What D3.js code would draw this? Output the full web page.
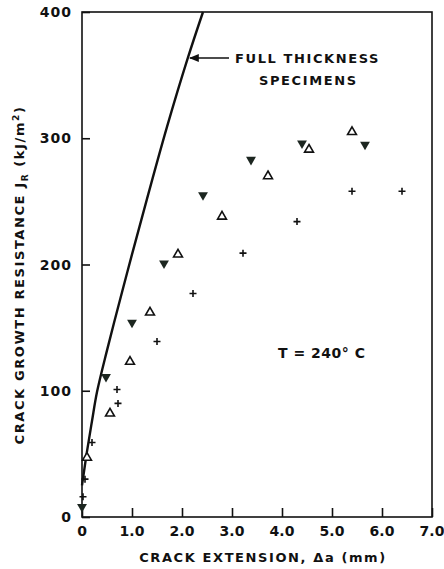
<!DOCTYPE html>
<html>
<head>
<meta charset="utf-8">
<script src="https://cdn.jsdelivr.net/npm/d3@7/dist/d3.min.js"></script>
<style>
  body { margin: 0; background: #fff; }
  text { font-family: "DejaVu Sans", sans-serif; font-weight: bold; fill: #111; }
</style>
</head>
<body>
<div id="chart"></div>
<script>
// crack extension (mm) / J_R (kJ/m^2)
var downTri = [[0.0, 8], [0.48, 111], [1.0, 154], [1.64, 201], [2.42, 255], [3.38, 283], [4.4, 296], [5.66, 295]];
var upTri = [[0.1, 47], [0.56, 82], [0.96, 123], [1.36, 162], [1.92, 208], [2.8, 238], [3.72, 270], [4.54, 291], [5.4, 305]];
var plus = [[0.02, 16], [0.06, 30], [0.2, 59], [0.7, 101], [0.72, 90], [1.5, 139], [2.22, 177], [3.22, 209], [4.3, 234], [5.4, 258], [6.4, 258]];
var fullThickness = [[0, 25], [0.1, 52], [0.2, 76], [0.3, 99], [0.5, 132], [0.8, 178], [1.0, 208], [1.3, 252], [1.7, 309], [2.12, 364], [2.42, 400]];
var xTicks = [0, 1, 2, 3, 4, 5, 6, 7];
var yTicks = [0, 100, 200, 300, 400];

var width = 444, height = 569;
var margin = {top: 12, right: 12, bottom: 52, left: 82};

var svg = d3.select("#chart").append("svg")
    .attr("width", width)
    .attr("height", height);

var x = d3.scaleLinear().domain([0, 7]).range([margin.left, width - margin.right]);
var y = d3.scaleLinear().domain([0, 400]).range([height - margin.bottom, margin.top]);

// frame
svg.append("rect")
    .attr("x", x(0)).attr("y", y(400))
    .attr("width", x(7) - x(0)).attr("height", y(0) - y(400))
    .attr("fill", "none").attr("stroke", "#111").attr("stroke-width", 1.6);

// axes, ticks pointing inward
var xAxis = svg.append("g")
    .attr("transform", "translate(0," + y(0) + ")")
    .call(d3.axisTop(x).tickValues(xTicks).tickSize(9).tickFormat(""));
xAxis.select(".domain").remove();
xAxis.selectAll("line").attr("stroke", "#111").attr("stroke-width", 1.6);

svg.selectAll(".xlab")
    .data(xTicks).enter()
    .append("text")
    .attr("class", "xlab")
    .attr("x", function (d) { return x(d); })
    .attr("y", y(0) + 19)
    .attr("text-anchor", "middle")
    .style("font-size", "14px")
    .text(function (d) { return d == 0 ? "0" : d.toFixed(1); });

var yAxis = svg.append("g")
    .attr("transform", "translate(" + x(0) + ",0)")
    .call(d3.axisRight(y).tickValues(yTicks).tickSize(8).tickFormat(""));
yAxis.select(".domain").remove();
yAxis.selectAll("line").attr("stroke", "#111").attr("stroke-width", 1.6);

svg.selectAll(".ylab")
    .data(yTicks).enter()
    .append("text")
    .attr("class", "ylab")
    .attr("x", x(0) - 10)
    .attr("y", function (d) { return y(d) + 5; })
    .attr("text-anchor", "end")
    .style("font-size", "14px")
    .style("letter-spacing", "1px")
    .text(function (d) { return d; });

// axis titles
svg.append("text")
    .attr("x", 263).attr("y", 562)
    .attr("text-anchor", "middle")
    .style("font-size", "13px")
    .style("letter-spacing", "1.6px")
    .text("CRACK EXTENSION, \u0394a (mm)");

var yt = svg.append("text")
    .attr("transform", "translate(24,275) rotate(-90)")
    .attr("text-anchor", "middle")
    .style("font-size", "13px")
    .style("letter-spacing", "1.6px");
yt.append("tspan").text("CRACK GROWTH RESISTANCE J");
yt.append("tspan").attr("dy", 4).style("font-size", "9px").text("R");
yt.append("tspan").attr("dy", -4).text(" (kJ/m");
yt.append("tspan").attr("dy", -5).style("font-size", "9px").text("2");
yt.append("tspan").attr("dy", 5).text(")");

// full thickness curve
var line = d3.line()
    .x(function (d) { return x(d[0]); })
    .y(function (d) { return y(d[1]); })
    .curve(d3.curveCatmullRom);

svg.append("path")
    .datum(fullThickness)
    .attr("d", line)
    .attr("fill", "none")
    .attr("stroke", "#111")
    .attr("stroke-width", 2.4);

// annotation with arrow
svg.append("defs").append("marker")
    .attr("id", "arr")
    .attr("viewBox", "0 0 10 10")
    .attr("refX", 9).attr("refY", 5)
    .attr("markerWidth", 7).attr("markerHeight", 7)
    .attr("orient", "auto")
    .append("path")
    .attr("d", "M0,1 L10,5 L0,9 Z")
    .attr("fill", "#111");

svg.append("line")
    .attr("x1", 229).attr("y1", 58)
    .attr("x2", 190).attr("y2", 58)
    .attr("stroke", "#111").attr("stroke-width", 1.4)
    .attr("marker-end", "url(#arr)");

svg.append("text")
    .attr("x", 235).attr("y", 63)
    .style("font-size", "13px")
    .style("letter-spacing", "1.6px")
    .text("FULL THICKNESS");
svg.append("text")
    .attr("x", 259).attr("y", 85)
    .style("font-size", "13px")
    .style("letter-spacing", "1.6px")
    .text("SPECIMENS");

svg.append("text")
    .attr("x", 278).attr("y", 358)
    .style("font-size", "14px")
    .style("letter-spacing", "0.5px")
    .text("T = 240\u00B0 C");

// data markers
svg.selectAll(".down")
    .data(downTri).enter()
    .append("path")
    .attr("class", "down")
    .attr("d", d3.symbol().type(d3.symbolTriangle).size(42))
    .attr("transform", function (d) { return "translate(" + x(d[0]) + "," + y(d[1]) + ") rotate(180)"; })
    .attr("fill", "#1c2620");

svg.selectAll(".up")
    .data(upTri).enter()
    .append("path")
    .attr("class", "up")
    .attr("d", d3.symbol().type(d3.symbolTriangle).size(34))
    .attr("transform", function (d) { return "translate(" + x(d[0]) + "," + y(d[1]) + ")"; })
    .attr("fill", "#fff")
    .attr("stroke", "#111")
    .attr("stroke-width", 1.6);

svg.selectAll(".plus")
    .data(plus).enter()
    .append("path")
    .attr("class", "plus")
    .attr("d", "M-3.5,0 H3.5 M0,-3.5 V3.5")
    .attr("transform", function (d) { return "translate(" + x(d[0]) + "," + y(d[1]) + ")"; })
    .attr("stroke", "#111")
    .attr("stroke-width", 1.6);
</script>
</body>
</html>
